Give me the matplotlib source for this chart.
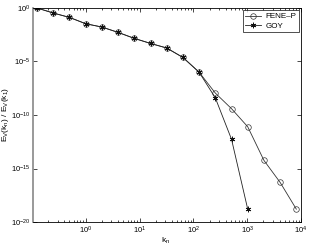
import numpy as np
import matplotlib
matplotlib.use("Agg")
import matplotlib.pyplot as plt
from matplotlib.ticker import FixedLocator, LogLocator, NullFormatter

# shell wavenumbers k_n = 2^n / 8
k_fene = [0.125, 0.25, 0.5, 1, 2, 4, 8, 16, 32, 64, 128, 256, 512, 1024, 2048, 4096, 8192]
k_goy = [0.125, 0.25, 0.5, 1, 2, 4, 8, 16, 32, 64, 128, 256, 512, 1024]
# log10 of energy ratio
logE_fene = [0, -0.47, -0.88, -1.47, -1.78, -2.28, -2.84, -3.31, -3.74, -4.62, -6.0,
             -7.95, -9.41, -11.1, -14.24, -16.3, -18.8]
logE_goy = [0, -0.47, -0.88, -1.47, -1.78, -2.28, -2.84, -3.31, -3.74, -4.62, -6.0,
            -8.4, -12.27, -18.8]

E_fene = 10.0 ** np.array(logE_fene)
E_goy = 10.0 ** np.array(logE_goy)

plt.rcParams['font.family'] = ['Liberation Sans', 'DejaVu Sans']
plt.rcParams['mathtext.fontset'] = 'custom'
plt.rcParams['mathtext.rm'] = 'Liberation Sans'
fig = plt.figure(figsize=(3.10, 2.49), dpi=100)
ax = fig.add_axes([33/310, 1 - 222/249, (301 - 33)/310, (222 - 8)/249])

ax.loglog(k_fene, E_fene, color='#333333', lw=0.6, marker='o', ms=4,
          mfc='none', mec='#333333', mew=0.5, label='FENE\u2013P')
ax.loglog(k_goy, E_goy, color='#222222', lw=0.6, marker=(6, 2, 0), ms=4,
          mfc='none', mec='#111111', mew=0.6, label='GOY')

ax.set_xlim(0.105, 1e4)
ax.set_ylim(1e-20, 1)
ax.xaxis.set_major_locator(FixedLocator([1, 10, 100, 1000, 10000]))
ax.xaxis.set_minor_locator(LogLocator(base=10, subs=np.arange(2, 10)))
ax.xaxis.set_minor_formatter(NullFormatter())
ax.yaxis.set_major_locator(FixedLocator([1e-20, 1e-15, 1e-10, 1e-5, 1]))
ax.yaxis.set_minor_locator(FixedLocator([]))

ax.tick_params(which='both', direction='in', top=True, right=True, labelsize=5.5, pad=2)
ax.tick_params(which='major', length=3, width=0.5)
ax.tick_params(which='minor', length=1.5, width=0.5)
for s in ax.spines.values():
    s.set_linewidth(0.6)
ax.spines['left'].set_color('#888888')
ax.spines['left'].set_linewidth(1.2)

ax.set_xlabel(r'k$_\mathregular{n}$', fontsize=6)
ax.set_ylabel(r'E$_\mathregular{V}$(k$_\mathregular{n}$) / E$_\mathregular{V}$(k$_\mathregular{1}$)',
              fontsize=6)
ax.xaxis.set_label_coords(0.494, -0.065)
ax.yaxis.set_label_coords(-0.083, 0.5)

leg = ax.legend(loc='upper right', fontsize=5.8, frameon=True, fancybox=False,
                edgecolor='black', borderpad=0.3, handlelength=2.0, handletextpad=0.5,
                labelspacing=0.2, borderaxespad=0.3)
leg.get_frame().set_linewidth(0.6)

fig.savefig('out.png', dpi=100)
